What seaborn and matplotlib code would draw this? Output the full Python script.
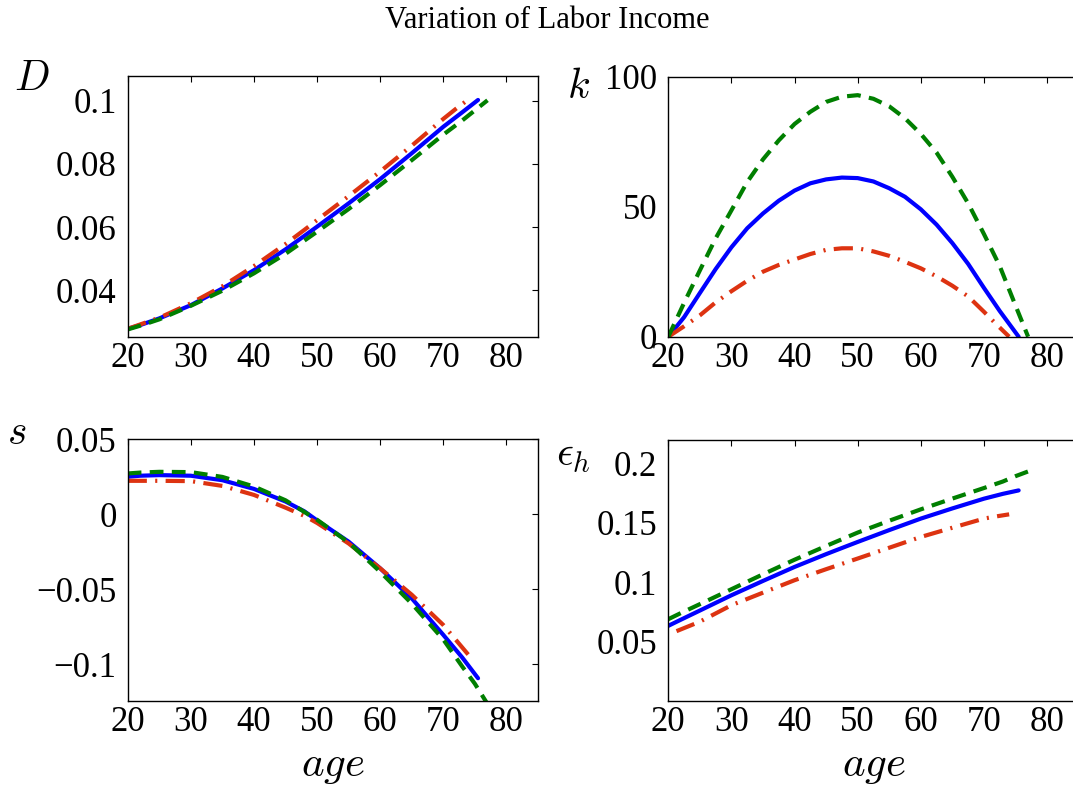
import numpy as np
import pandas as pd
import matplotlib
matplotlib.use("Agg")
import matplotlib.pyplot as plt
import seaborn as sns

# ---------------- data ----------------
age_blue = [20, 22, 25, 30, 35, 40, 45, 48, 50, 55, 60, 65, 70, 73, 75.5]
age_green = [20, 22, 25, 30, 35, 40, 45, 50, 55, 60, 65, 70, 73, 75, 77]
age_red = [20, 22, 25, 30, 35, 40, 45, 48, 50, 55, 60, 65, 70, 72, 74]
age_red_eps = [21.3, 25, 30, 35, 40, 45, 50, 55, 60, 65, 70, 72, 74]

age_k_blue = [20, 22.5, 25, 27.5, 30, 32.5, 35, 37.5, 40, 42.5, 45, 47.5, 50, 52.5,
              55, 57.5, 60, 62.5, 65, 67.5, 70, 72.5, 75.5]
age_k_green = [20, 22.5, 25, 27.5, 30, 32.5, 35, 37.5, 40, 42.5, 45, 47.5, 50, 52.5,
               55, 57.5, 60, 62.5, 65, 67.5, 70, 72.5, 75, 77]
age_k_red = [20, 22.5, 25, 27.5, 30, 32.5, 35, 37.5, 40, 42.5, 45, 47.5, 50, 52.5,
             55, 57.5, 60, 62.5, 65, 67.5, 70, 72, 74]

D_blue = [0.0277, 0.0289, 0.0310, 0.0352, 0.0405, 0.0463, 0.0529, 0.0572, 0.0601,
          0.0675, 0.0752, 0.0834, 0.0918, 0.0964, 0.1003]
D_green = [0.0275, 0.0287, 0.0307, 0.0350, 0.0398, 0.0453, 0.0515, 0.0585, 0.0657,
           0.0733, 0.0812, 0.0893, 0.0938, 0.0970, 0.1002]
D_red = [0.0277, 0.0291, 0.0312, 0.0358, 0.0412, 0.0476, 0.0546, 0.0591, 0.0622,
         0.0698, 0.0776, 0.0858, 0.0943, 0.0975, 0.1005]

k_blue = [0, 7.5, 16.8, 26.0, 34.4, 41.7, 47.4, 52.3, 56.2, 59.0, 60.5, 61.2, 61.0,
          59.7, 57.1, 53.8, 49.0, 43.1, 36.0, 28.0, 18.8, 9.9, 0]
k_green = [0, 13.0, 25.5, 37.8, 48.6, 59.5, 68.2, 75.5, 81.8, 86.5, 90.3, 92.3, 92.9,
           91.5, 88.6, 84.0, 78.0, 70.8, 61.5, 51.3, 39.5, 27.2, 12.0, 0]
k_red = [0, 4.0, 8.2, 13.2, 17.5, 21.5, 25.0, 27.6, 29.7, 31.8, 33.4, 34.0, 34.0,
         32.8, 31.1, 28.8, 26.3, 23.2, 19.6, 15.5, 9.6, 4.7, 0]

s_blue = [0.0251, 0.0258, 0.0262, 0.0258, 0.0228, 0.0170, 0.0086, 0.0020, -0.0040,
          -0.0182, -0.0360, -0.0560, -0.0804, -0.0955, -0.1093]
s_green = [0.0273, 0.0279, 0.0284, 0.0282, 0.0250, 0.0186, 0.0094, -0.0036, -0.0187,
           -0.0383, -0.0595, -0.0835, -0.1015, -0.1130, -0.1265]
s_red = [0.0224, 0.0224, 0.0224, 0.0222, 0.0190, 0.0130, 0.0045, -0.0010, -0.0057,
         -0.0194, -0.0360, -0.0536, -0.0738, -0.0838, -0.0938]

eps_blue = [0.0632, 0.0684, 0.0761, 0.0890, 0.1011, 0.1129, 0.1237, 0.1299, 0.1340,
            0.1440, 0.1537, 0.1623, 0.1705, 0.1746, 0.1775]
eps_green = [0.0688, 0.0740, 0.0815, 0.0941, 0.1067, 0.1190, 0.1306, 0.1419, 0.1519,
             0.1615, 0.1706, 0.1795, 0.1850, 0.1895, 0.1935]
eps_red = [0.0587, 0.0667, 0.0806, 0.0912, 0.1017, 0.1110, 0.1200, 0.1291, 0.1382,
           0.1460, 0.1537, 0.1556, 0.1573]

x_ticks = [20, 30, 40, 50, 60, 70, 80]
D_ticks = [0.04, 0.06, 0.08, 0.1]
D_ticklabels = ["0.04", "0.06", "0.08", "0.1"]
k_ticks = [0, 50, 100]
k_ticklabels = ["0", "50", "100"]
s_ticks = [-0.1, -0.05, 0, 0.05]
s_ticklabels = ["\u22120.1", "\u22120.05", "0", "0.05"]
eps_ticks = [0.05, 0.1, 0.15, 0.2]
eps_ticklabels = ["0.05", "0.1", "0.15", "0.2"]

title = "Variation of Labor Income"

# ---------------- style ----------------
sns.set_theme(style="white")
plt.rcParams["font.family"] = ["Liberation Serif", "DejaVu Serif"]
plt.rcParams["mathtext.fontset"] = "cm"
plt.rcParams["axes.unicode_minus"] = True
plt.rcParams["text.color"] = "black"
plt.rcParams["axes.labelcolor"] = "black"

C_BLUE = "#0000FF"
C_GREEN = "#007F00"
C_RED = "#DD3311"
LW = 3.0
DASH_GREEN = (0, (3.3, 2.0))
DASHDOT_RED = (0, (4.6, 2.0, 0.5, 2.0))

W, H = 1073, 786
fig = plt.figure(figsize=(W / 100, H / 100), dpi=100)


def rect(left_px, top_px, right_px, bottom_px):
    return [left_px / W, 1 - bottom_px / H, (right_px - left_px) / W, (bottom_px - top_px) / H]


ax_D = fig.add_axes(rect(127.7, 75.7, 538.0, 336.7))
ax_k = fig.add_axes(rect(668.3, 76.7, 1078.6, 336.7))
ax_s = fig.add_axes(rect(127.7, 439.0, 538.0, 700.7))
ax_e = fig.add_axes(rect(668.3, 439.7, 1078.6, 700.7))


def draw(ax, xb, yb, xg, yg, xr, yr):
    sns.lineplot(x=xb, y=yb, ax=ax, color=C_BLUE, lw=LW, linestyle="-", sort=False)
    sns.lineplot(x=xr, y=yr, ax=ax, color=C_RED, lw=LW, linestyle=DASHDOT_RED, sort=False)
    sns.lineplot(x=xg, y=yg, ax=ax, color=C_GREEN, lw=LW, linestyle=DASH_GREEN, sort=False)


draw(ax_D, age_blue, D_blue, age_green, D_green, age_red, D_red)
draw(ax_k, age_k_blue, k_blue, age_k_green, k_green, age_k_red, k_red)
draw(ax_s, age_blue, s_blue, age_green, s_green, age_red, s_red)
draw(ax_e, age_blue, eps_blue, age_green, eps_green, age_red_eps, eps_red)

TICK_FS = 25
LABEL_FS = 30

setups = [
    (ax_D, (0.0252, 0.108), D_ticks, D_ticklabels, r"$D$", (-0.233, 0.983)),
    (ax_k, (0, 100), k_ticks, k_ticklabels, r"$k$", (-0.218, 0.957)),
    (ax_s, (-0.1243, 0.0503), s_ticks, s_ticklabels, r"$s$", (-0.27, 1.019)),
    (ax_e, (0, 0.2203), eps_ticks, eps_ticklabels, r"$\epsilon_h$", (-0.232, 0.939)),
]
for ax, ylim, yt, ytl, lab, lab_pos in setups:
    ax.set_xlim(20, 85)
    ax.set_ylim(*ylim)
    ax.set_xticks(x_ticks)
    ax.set_xticklabels([str(v) for v in x_ticks])
    ax.set_yticks(yt)
    ax.set_yticklabels(ytl)
    ax.tick_params(direction="in", top=True, right=True, length=4, width=0.8,
                   labelsize=TICK_FS, color="black", labelcolor="black")
    ax.tick_params(axis="x", pad=4)
    ax.tick_params(axis="y", pad=8)
    for sp in ax.spines.values():
        sp.set_visible(True)
        sp.set_color("black")
        sp.set_linewidth(1.0)
    ax.set_facecolor("white")
    ax.set_xlabel("")
    ax.set_ylabel(lab, rotation=0, fontsize=LABEL_FS, ha="center", va="center")
    ax.yaxis.set_label_coords(*lab_pos)

for ax in (ax_s, ax_e):
    ax.set_xlabel(r"$age$", fontsize=31, va="center")
    ax.xaxis.set_label_coords(0.5, -0.252)

fig.text(547 / W, 1 - 20 / H, title, ha="center", va="center", fontsize=22,
         color="black", family=["Liberation Serif", "DejaVu Serif"])

fig.savefig("out.png", dpi=100, facecolor="white")
